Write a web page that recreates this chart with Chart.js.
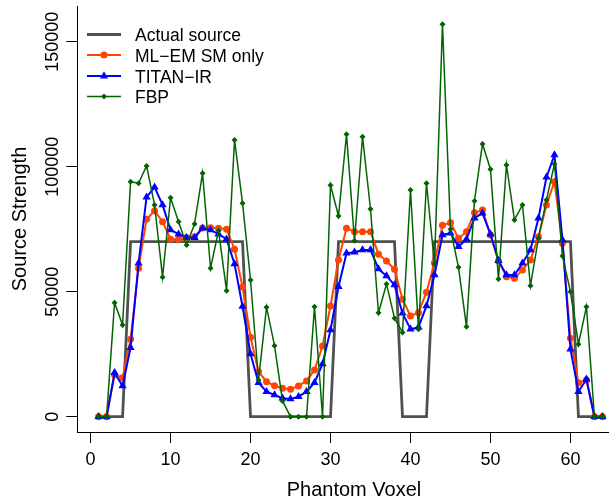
<!DOCTYPE html>
<html>
<head>
<meta charset="utf-8">
<script src="https://cdn.jsdelivr.net/npm/chart.js@4/dist/chart.umd.min.js"></script>
<style>
  html, body { margin: 0; padding: 0; background: #ffffff; }
  #wrap { width: 613px; height: 503px; }
</style>
</head>
<body>
<div id="wrap"><canvas id="chart" width="613" height="503"></canvas></div>
<script>
// Source strength per phantom voxel (voxels 1..64)
const actualSource = [
  0, 0, 0, 0,
  70000, 70000, 70000, 70000, 70000, 70000, 70000, 70000, 70000, 70000, 70000, 70000, 70000, 70000, 70000,
  0, 0, 0, 0, 0, 0, 0, 0, 0, 0, 0,
  70000, 70000, 70000, 70000, 70000, 70000, 70000, 70000,
  0, 0, 0, 0,
  70000, 70000, 70000, 70000, 70000, 70000, 70000, 70000, 70000, 70000, 70000, 70000, 70000, 70000, 70000, 70000, 70000, 70000,
  0, 0, 0, 0
];

const mlemSmOnly = [
  0, 0, 16800, 15600, 31000, 59400, 79000, 82400, 78000, 71000,
  71000, 71700, 72000, 75500, 75600, 75400, 75000, 67000, 51900, 31800,
  18000, 14000, 12400, 11400, 11000, 12300, 14300, 18700, 28300, 44300,
  62700, 75400, 74000, 74000, 74000, 65000, 62300, 59000, 47000, 40300,
  41600, 49800, 61600, 76600, 77600, 71400, 74000, 81600, 82700, 72700,
  62300, 56000, 55400, 58700, 62700, 72000, 84700, 94000, 69400, 31400,
  13600, 14700, 0, 0
];

const titanIr = [
  0, 0, 17600, 12300, 27600, 61400, 87800, 91800, 84700, 74700,
  73000, 71600, 71600, 75400, 74700, 73000, 71000, 61100, 44100, 25100,
  13600, 10000, 8700, 7400, 7100, 8000, 10000, 13600, 21100, 34700,
  52000, 65400, 65800, 66700, 66700, 59100, 56300, 52700, 41400, 35000,
  35800, 44300, 56700, 72700, 73400, 68000, 71000, 79400, 81400, 73000,
  62400, 56700, 56700, 61400, 66700, 79400, 95800, 104700, 70700, 27000,
  10000, 15000, 0, 0
];

const fbp = [
  0, 0, 45600, 36700, 94000, 93400, 100300, 84700, 55800, 87600,
  78000, 68700, 77100, 97400, 59400, 74400, 50400, 110700, 85400, 54700,
  14700, 43800, 28400, 6300, 0, 0, 0, 44000, 0, 92600,
  80300, 113000, 70400, 112000, 83100, 41600, 53100, 39400, 33700, 90700,
  35000, 93400, 61100, 157000, 75000, 59800, 36000, 86300, 109100, 99000,
  55100, 100700, 78700, 84700, 52400, 71400, 86700, 101100, 64300, 50000,
  29000, 44000, 0, 0
];

const seriesNames = ['Actual source', 'ML\u2212EM SM only', 'TITAN\u2212IR', 'FBP'];
const xTickValues = [0, 10, 20, 30, 40, 50, 60];
const yTickValues = [0, 50000, 100000, 150000];
const xTitle = 'Phantom Voxel';
const yTitle = 'Source Strength';

const FONT = '"Liberation Sans", Arial, Helvetica, sans-serif';

const toPoints = (values) => values.map((v, i) => ({ x: i + 1, y: v }));

// R-style legend: short line with the marker in its middle, then the label
const legendBox = {
  id: 'legendBox',
  afterDraw(chart) {
    const ctx = chart.ctx;
    const rowY = [34.5, 55, 76, 96.5];
    chart.data.datasets.forEach((ds, i) => {
      const y = rowY[i];
      ctx.save();
      ctx.strokeStyle = ds.borderColor;
      ctx.lineWidth = ds.borderWidth;
      ctx.beginPath();
      ctx.moveTo(87, y);
      ctx.lineTo(121, y);
      ctx.stroke();
      if (ds.pointRadius > 0) {
        ctx.fillStyle = ds.pointBackgroundColor;
        ctx.strokeStyle = ds.pointBackgroundColor;
        Chart.helpers.drawPoint(ctx, { pointStyle: ds.pointStyle, radius: ds.pointRadius, borderWidth: 0, rotation: 0 }, 104, y);
      }
      ctx.fillStyle = '#000000';
      ctx.font = '17.5px ' + FONT;
      ctx.textAlign = 'left';
      ctx.textBaseline = 'alphabetic';
      ctx.fillText(seriesNames[i], 135, y + 6.5);
      ctx.restore();
    });
  }
};

// Vertical tick labels on the y axis (reading bottom to top) and the x axis title
const axisText = {
  id: 'axisText',
  afterDraw(chart) {
    const ctx = chart.ctx;
    const ys = chart.scales.y;
    ctx.save();
    ctx.fillStyle = '#000000';
    ctx.font = '18px ' + FONT;
    ctx.textAlign = 'center';
    ctx.textBaseline = 'alphabetic';
    yTickValues.forEach(v => {
      const py = ys.getPixelForValue(v);
      ctx.save();
      ctx.translate(58.3, py);
      ctx.rotate(-Math.PI / 2);
      ctx.fillText(String(v), 0, 0);
      ctx.restore();
    });
    ctx.font = '20px ' + FONT;
    ctx.fillText(xTitle, 354, 495.7);
    ctx.restore();
  }
};

new Chart(document.getElementById('chart'), {
  type: 'line',
  data: {
    datasets: [
      {
        label: seriesNames[0],
        data: toPoints(actualSource),
        borderColor: '#505050',
        borderWidth: 2.8,
        pointRadius: 0,
        tension: 0,
        order: 4
      },
      {
        label: seriesNames[1],
        data: toPoints(mlemSmOnly),
        borderColor: '#ff4500',
        backgroundColor: '#ff4500',
        pointBackgroundColor: '#ff4500',
        pointBorderColor: '#ff4500',
        borderWidth: 2,
        pointStyle: 'circle',
        pointRadius: 3.5,
        pointBorderWidth: 0,
        tension: 0,
        order: 3
      },
      {
        label: seriesNames[2],
        data: toPoints(titanIr),
        borderColor: '#0000ff',
        backgroundColor: '#0000ff',
        pointBackgroundColor: '#0000ff',
        pointBorderColor: '#0000ff',
        borderWidth: 2,
        pointStyle: 'triangle',
        pointRadius: 4.8,
        pointBorderWidth: 0,
        tension: 0,
        order: 2
      },
      {
        label: seriesNames[3],
        data: toPoints(fbp),
        borderColor: '#006400',
        backgroundColor: '#006400',
        pointBackgroundColor: '#006400',
        pointBorderColor: '#006400',
        borderWidth: 1.5,
        pointStyle: 'rectRot',
        pointRadius: 3,
        pointBorderWidth: 0,
        tension: 0,
        order: 1
      }
    ]
  },
  options: {
    responsive: false,
    animation: false,
    devicePixelRatio: 1,
    layout: { padding: { top: 6, left: 0, right: 0, bottom: 0 } },
    plugins: {
      legend: { display: false },
      tooltip: { enabled: false }
    },
    scales: {
      x: {
        type: 'linear',
        min: -1.66,
        max: 64.72,
        afterBuildTicks: (s) => { s.ticks = xTickValues.map(v => ({ value: v })); },
        afterFit: (s) => { s.height = 71; },
        grid: { display: true, drawOnChartArea: false, drawTicks: true, tickLength: 11, tickColor: '#000000', tickWidth: 1 },
        border: { display: true, color: '#000000', width: 1 },
        ticks: { color: '#000000', font: { family: FONT, size: 18 }, padding: 6.4, maxRotation: 0, autoSkip: false },
        title: { display: false }
      },
      y: {
        type: 'linear',
        min: -6120,
        max: 164280,
        afterBuildTicks: (s) => { s.ticks = yTickValues.map(v => ({ value: v })); },
        afterFit: (s) => { s.width = 77.3; },
        grid: { display: true, drawOnChartArea: false, drawTicks: true, tickLength: 11, tickColor: '#000000', tickWidth: 1 },
        border: { display: true, color: '#000000', width: 1 },
        ticks: { display: false },
        title: { display: true, text: yTitle, color: '#000000', font: { family: FONT, size: 20 }, padding: { top: 8, bottom: 0 } }
      }
    }
  },
  plugins: [legendBox, axisText]
});
</script>
</body>
</html>
